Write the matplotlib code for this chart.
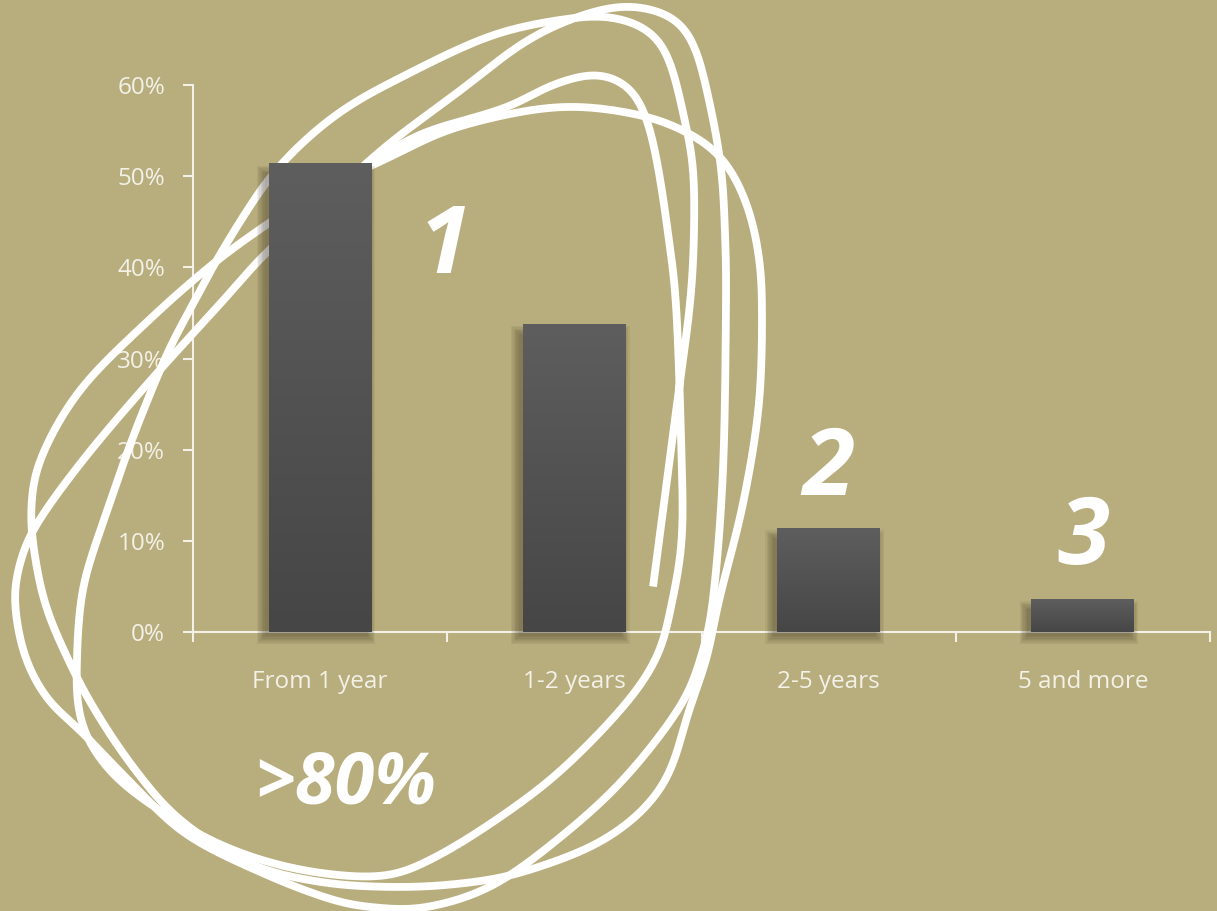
import numpy as np
import matplotlib
matplotlib.use("Agg")
import matplotlib.pyplot as plt
from matplotlib.transforms import Affine2D
from matplotlib.patches import Rectangle
from matplotlib.colors import LinearSegmentedColormap
from matplotlib.lines import Line2D

# ---------------- data ----------------
categories = ["From 1 year", "1-2 years", "2-5 years", "5 and more"]
values = [0.514, 0.338, 0.114, 0.036]
ytick_values = [0.0, 0.1, 0.2, 0.3, 0.4, 0.5, 0.6]
ytick_labels = ["0%", "10%", "20%", "30%", "40%", "50%", "60%"]
rank_labels = ["1", "2", "3"]
total_label = ">80%"

# ---------------- style ----------------
BG = "#B8AD7C"
FG = "#F3F1E8"
W_PX, H_PX = 1217, 911
plt.rcParams["font.family"] = ["Open Sans", "DejaVu Sans"]

fig = plt.figure(figsize=(W_PX / 100, H_PX / 100), dpi=100, facecolor=BG)
ax = fig.add_axes([193 / W_PX, 1 - 632 / H_PX, 1017 / W_PX, 547 / H_PX])
ax.patch.set_visible(False)

x = np.arange(len(categories))
bw = 0.405
bars = ax.bar(x, values, width=bw, color="#555555", zorder=5, linewidth=0)

ax.set_xlim(-0.5, len(categories) - 0.5)
ax.set_ylim(0, 0.6)

# pixel -> data scale helpers
px_x = 1.0 / 254.0
px_y = 0.6 / 547.0

# shadows + gradient fill
cmap = LinearSegmentedColormap.from_list("g", ["#464646", "#5E5E5E"])
grad = np.linspace(0, 1, 256).reshape(-1, 1)
for b in bars:
    x0, w, h = b.get_x(), b.get_width(), b.get_height()
    for k in range(7):
        e = k * 1.3
        ax.add_patch(Rectangle((x0 - 4 * px_x - e * px_x, -4 * px_y - e * px_y),
                               w + 2 * e * px_x, h + 2 * e * px_y - 6 * px_y,
                               facecolor="#3b3522", edgecolor="none", alpha=0.07,
                               zorder=4.6, clip_on=False))
    im = ax.imshow(grad, extent=[x0, x0 + w, 0, h], origin="lower", cmap=cmap,
                   aspect="auto", zorder=5.1, interpolation="bilinear")
    im.set_clip_path(b)

ax.set_xlim(-0.5, len(categories) - 0.5)
ax.set_ylim(0, 0.6)

# spines
for s in ["top", "right"]:
    ax.spines[s].set_visible(False)
for s in ["left", "bottom"]:
    ax.spines[s].set_color(FG)
    ax.spines[s].set_linewidth(1.5)

ax.set_yticks(ytick_values)
ax.set_yticklabels(ytick_labels)
ax.tick_params(axis="y", colors=FG, length=7, width=1.5, pad=13, labelsize=17.5)

ax.set_xticks(np.arange(len(categories) + 1) - 0.5)
ax.set_xticklabels([])
ax.set_xticks(x, minor=True)
ax.set_xticklabels(categories, minor=True)
ax.tick_params(axis="x", which="major", colors=FG, length=7, width=1.5)
ax.tick_params(axis="x", which="minor", length=0, pad=27, labelsize=17.5, labelcolor=FG)

# ---------------- hand-drawn scribbles (decoration, pixel coords) ----------------
ptrans = Affine2D().scale(1 / W_PX, -1 / H_PX).translate(0, 1) + fig.transFigure


def catmull(pts, n=20, closed=False):
    p = np.asarray(pts, float)
    if closed:
        p = np.vstack([p[-1], p, p[0], p[1]])
    else:
        p = np.vstack([2 * p[0] - p[1], p, 2 * p[-1] - p[-2]])
    out = []
    t = np.linspace(0, 1, n, endpoint=False)[:, None]
    for i in range(1, len(p) - 2):
        p0, p1, p2, p3 = p[i - 1], p[i], p[i + 1], p[i + 2]
        seg = 0.5 * ((2 * p1) + (-p0 + p2) * t + (2 * p0 - 5 * p1 + 4 * p2 - p3) * t ** 2
                     + (-p0 + 3 * p1 - 3 * p2 + p3) * t ** 3)
        out.append(seg)
    out.append(p[-2][None, :])
    return np.vstack(out)


def smooth(pts, closed=False, sigma=13.0):
    c = catmull(pts, closed=closed)
    d = np.r_[0, np.cumsum(np.hypot(*np.diff(c, axis=0).T))]
    s = np.arange(0, d[-1], 1.0)
    xs = np.interp(s, d, c[:, 0])
    ys = np.interp(s, d, c[:, 1])
    r = int(3 * sigma)
    k = np.exp(-0.5 * (np.arange(-r, r + 1) / sigma) ** 2)
    k /= k.sum()
    if closed:
        xs = np.convolve(np.pad(xs, r, mode="wrap"), k, mode="valid")
        ys = np.convolve(np.pad(ys, r, mode="wrap"), k, mode="valid")
        xs = np.r_[xs, xs[0]]
        ys = np.r_[ys, ys[0]]
    else:
        xs = np.convolve(np.pad(xs, r, mode="reflect", reflect_type="odd"), k, mode="valid")
        ys = np.convolve(np.pad(ys, r, mode="reflect", reflect_type="odd"), k, mode="valid")
    return xs, ys


stroke1 = [(373, 160), (423, 133), (483, 115), (515, 104), (552, 85), (597, 74), (630, 88),
           (647, 120), (658, 167), (668, 233), (676, 304), (681, 437), (682, 537), (671, 607),
           (657, 657), (623, 707), (557, 774), (490, 824), (430, 860), (385, 876), (320, 873),
           (255, 858), (195, 832), (127, 787), (92, 747), (78, 707), (77, 657), (80, 608),
           (87, 571), (107, 511), (133, 437), (167, 354), (193, 304), (210, 272), (236, 228),
           (268, 180), (300, 145), (340, 112), (390, 83), (490, 36), (573, 18), (617, 18),
           (652, 33), (670, 62), (684, 117), (693, 167), (694, 233), (690, 304), (677, 404),
           (653, 587)]

stroke2 = [(373, 165), (390, 157), (457, 127), (557, 107), (640, 115), (694, 136), (725, 162),
           (746, 202), (758, 250), (762, 304), (759, 404), (743, 504), (719, 600), (707, 657),
           (690, 707), (663, 785), (607, 838), (523, 872), (457, 884), (390, 887), (320, 882),
           (250, 864), (180, 820), (133, 767), (93, 707), (67, 657), (46, 607), (35, 557),
           (31, 511), (40, 460), (80, 390), (149, 320), (214, 263), (269, 223), (320, 190)]

stroke3 = [(390, 143), (457, 93), (523, 43), (577, 17), (627, 6), (672, 17), (694, 45),
           (709, 100), (721, 167), (725, 233), (726, 304), (723, 471), (713, 600), (701, 657),
           (680, 707), (623, 780), (557, 840), (490, 887), (423, 908), (370, 907), (333, 900),
           (267, 875), (187, 835), (133, 785), (83, 733), (48, 700), (25, 657), (15, 607),
           (17, 575), (33, 530), (83, 460), (150, 381), (220, 304), (267, 252), (330, 196)]

for pts, closed in [(stroke1, False), (stroke2, True), (stroke3, True)]:
    xs, ys = smooth(pts, closed=closed)
    ln = Line2D(xs, ys, transform=ptrans, color="white", linewidth=5.6,
                solid_capstyle="butt", solid_joinstyle="round", zorder=4.5, clip_on=False)
    ax.add_line(ln)

# ---------------- rank annotations ----------------
big = dict(color="white", fontweight="bold", fontstyle="italic", ha="center", va="center",
           zorder=7, clip_on=False)
ax.text(0.49, 0.421, rank_labels[0], fontsize=68, **big)
ax.text(2.0, 0.177, rank_labels[1], fontsize=68, **big)
ax.text(3.0, 0.102, rank_labels[2], fontsize=68, **big)
ax.text(0.1, -0.167, total_label, fontsize=52, **big)

fig.savefig("out.png", dpi=100, facecolor=BG)
